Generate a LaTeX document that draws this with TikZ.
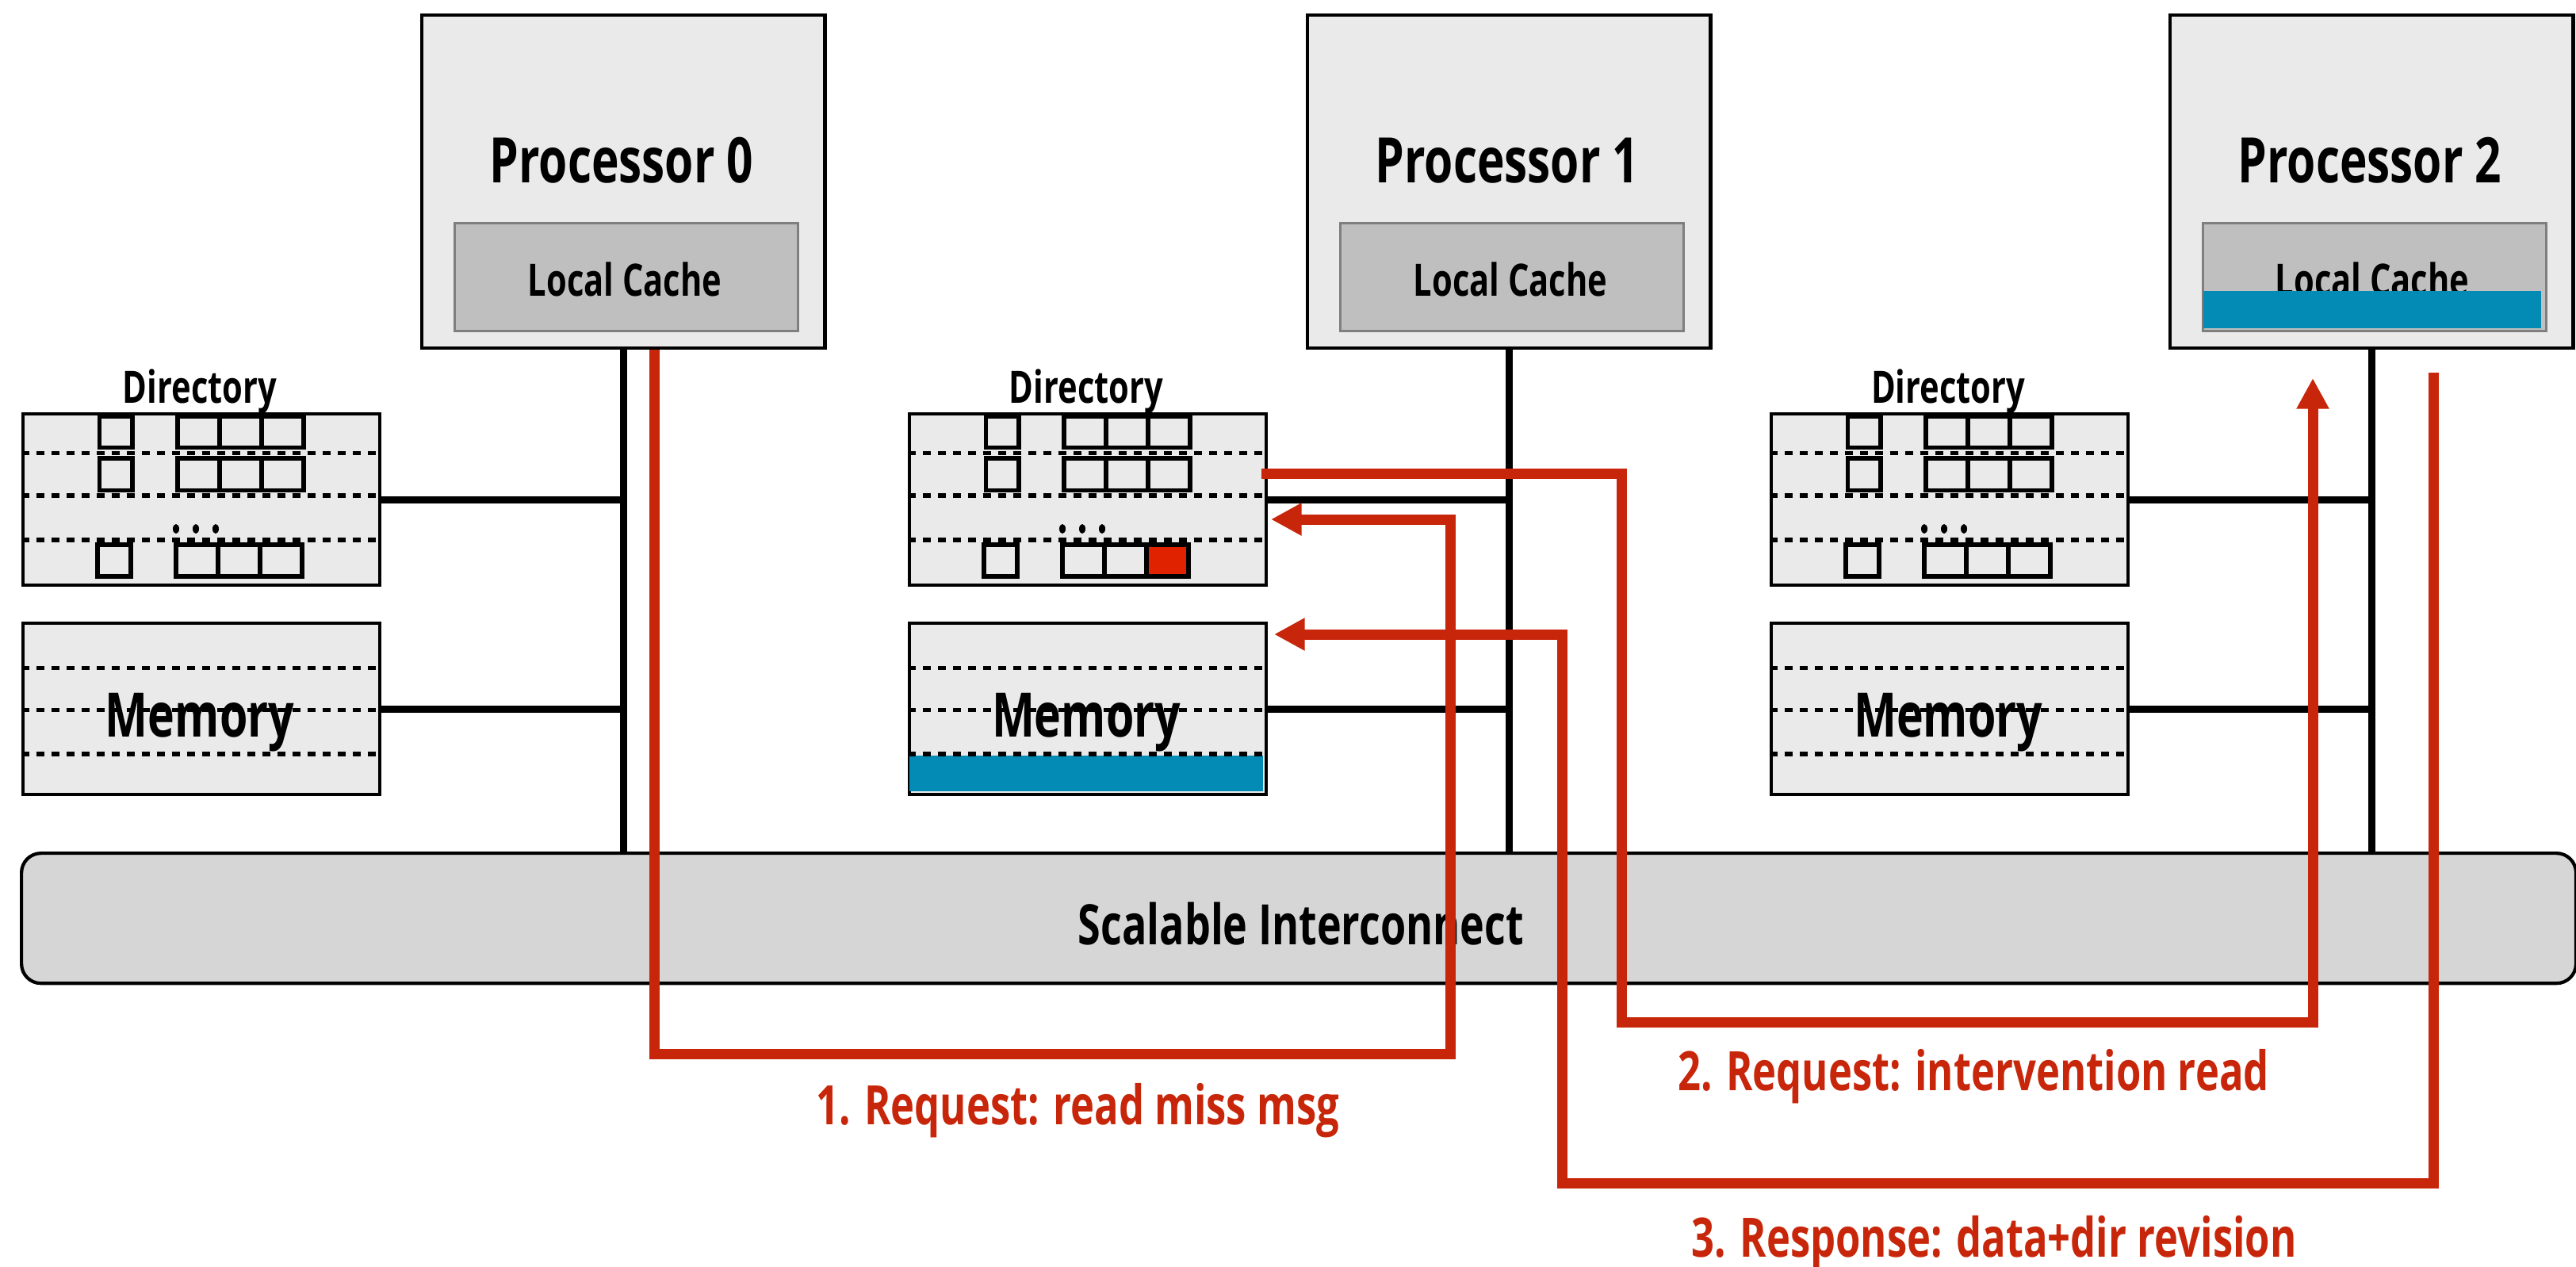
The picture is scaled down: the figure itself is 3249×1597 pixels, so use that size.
\documentclass[tikz,border=0pt]{standalone}
\usepackage{fontspec}
\setmainfont{Open Sans}[FakeStretch=0.74]
\usetikzlibrary{arrows.meta,calc}
\definecolor{boxgray}{HTML}{EAEAEA}
\definecolor{cachegray}{HTML}{BFBFBF}
\definecolor{cacheedge}{HTML}{7F7F7F}
\definecolor{busgray}{HTML}{D6D6D6}
\definecolor{msgred}{HTML}{C8260A}
\definecolor{cellred}{HTML}{E02200}
\definecolor{bandblue}{HTML}{038BB5}
\begin{document}
\begin{tikzpicture}[x=0.01cm,y=-0.01cm,
  procbox/.style={draw=black,line width=1.2pt,fill=boxgray,inner sep=0pt,minimum width=5.08cm,minimum height=4.2cm,anchor=north west},
  cachebox/.style={draw=cacheedge,line width=0.9pt,fill=cachegray,inner sep=0pt,minimum width=4.33cm,minimum height=1.36cm,anchor=north west},
  membox/.style={draw=black,line width=1.15pt,fill=boxgray,inner sep=0pt,minimum width=4.5cm,minimum height=2.16cm,anchor=north west},
  icbox/.style={draw=black,line width=1.2pt,fill=busgray,rounded corners=7pt,inner sep=0pt,minimum width=32.2cm,minimum height=1.64cm,anchor=north west},
  proctext/.style={anchor=base,inner sep=0pt,font=\fontsize{22.5}{26}\selectfont\bfseries},
  dirtext/.style={anchor=base,inner sep=0pt,font=\fontsize{16}{18}\selectfont\bfseries},
  memtext/.style={anchor=base,inner sep=0pt,font=\fontsize{22}{26}\selectfont\bfseries},
  ictext/.style={anchor=base,inner sep=0pt,font=\fontsize{20}{24}\selectfont\bfseries},
  msgtext/.style={anchor=base,inner sep=0pt,text=msgred,font=\fontsize{19.5}{24}\selectfont\bfseries},
  dashline/.style={draw=black,line width=1.5pt,dash pattern=on 2.8pt off 2.6pt},
  cell/.style={draw=black,line width=1.6pt},
  bus/.style={draw=black,line width=2.6pt},
  msg/.style={draw=msgred,line width=3.7pt,line join=miter,-{Triangle[length=11pt,width=11pt]}}
]
\useasboundingbox (0,0) rectangle (3249,1597);

% interconnect
\node[icbox] (ic) at (25,1074) {};
\node[ictext] (ict) at (1641,1191) {Scalable Interconnect};

% processors
\node[procbox] (p0) at (530,17) {};
\node[procbox] (p1) at (1647,17) {};
\node[procbox] (p2) at (2735,17) {};
\node[proctext] (p0t) at (784,230) {Processor 0};
\node[proctext] (p1t) at (1901,230) {Processor 1};
\node[proctext] (p2t) at (2989,230) {Processor 2};
\node[cachebox] (c0) at (572,280) {};
\node[cachebox] (c1) at (1689,280) {};
\node[cachebox] (c2) at (2777,280) {};
\node[dirtext] (c0t) at (788,373) {Local Cache};
\node[dirtext] (c1t) at (1905,373) {Local Cache};
\node[dirtext] (c2t) at (2992,373) {Local Cache};
\fill[bandblue] (2779,367) rectangle (3205,414);

% directories and memories
\node[membox] (d0) at (27,520) {};
\node[membox] (d1) at (1145,520) {};
\node[membox] (d2) at (2232,520) {};
\node[membox] (m0) at (27,784) {};
\node[membox] (m1) at (1145,784) {};
\node[membox] (m2) at (2232,784) {};
\fill[bandblue] (1147,953) rectangle (1593,998);

\foreach \o in {0,1118,2205}{
  \draw[dashline] (27+\o,571.5) -- (477+\o,571.5);
  \draw[dashline] (27+\o,625) -- (477+\o,625);
  \draw[dashline] (27+\o,681) -- (477+\o,681);
  \draw[dashline] (27+\o,842.5) -- (477+\o,842.5);
  \draw[dashline] (27+\o,895.5) -- (477+\o,895.5);
  \draw[dashline] (27+\o,951) -- (477+\o,951);
  % row 1
  \draw[cell] (125.5+\o,525) rectangle (167+\o,564.5);
  \draw[cell] (224+\o,525) rectangle (383+\o,564.5);
  \draw[cell] (277+\o,525) -- (277+\o,564.5);
  \draw[cell] (330+\o,525) -- (330+\o,564.5);
  % row 2
  \draw[cell] (125.5+\o,578) rectangle (167+\o,618.5);
  \draw[cell] (224+\o,578) rectangle (383+\o,618.5);
  \draw[cell] (277+\o,578) -- (277+\o,618.5);
  \draw[cell] (330+\o,578) -- (330+\o,618.5);
  % dots
  \fill (222+\o,667) ellipse (4 and 6);
  \fill (247+\o,667) ellipse (4 and 6);
  \fill (272+\o,667) ellipse (4 and 6);
  % row 3
  \draw[cell] (123+\o,687) rectangle (165+\o,727);
}
\fill[cellred] (1446,687) rectangle (1497,727);
\foreach \o in {0,1118,2205}{
  \draw[cell] (222+\o,687) rectangle (381+\o,727);
  \draw[cell] (275+\o,687) -- (275+\o,727);
  \draw[cell] (328+\o,687) -- (328+\o,727);
}
\node[dirtext] (d0t) at (252,508) {Directory};
\node[dirtext] (d1t) at (1370,508) {Directory};
\node[dirtext] (d2t) at (2457,508) {Directory};
\node[memtext] (m0t) at (252,929) {Memory};
\node[memtext] (m1t) at (1370,929) {Memory};
\node[memtext] (m2t) at (2457,929) {Memory};

% bus lines
\draw[bus] (p0.south) -- (p0.south |- ic.north);
\draw[bus] (p1.south) -- (p1.south |- ic.north);
\draw[bus] (p2.south) -- (p2.south |- ic.north);
\draw[bus] (d0.east) -- (d0.east -| p0.south);
\draw[bus] (d1.east) -- (d1.east -| p1.south);
\draw[bus] (d2.east) -- (d2.east -| p2.south);
\draw[bus] (m0.east) -- (m0.east -| p0.south);
\draw[bus] (m1.east) -- (m1.east -| p1.south);
\draw[bus] (m2.east) -- (m2.east -| p2.south);

% messages
\coordinate (s1) at (825,441);
\coordinate (e1) at (1603,655);
\coordinate (s2) at (1591,597);
\coordinate (e2) at (2917,477);
\coordinate (s3) at (3069,470);
\coordinate (e3) at (1607,800);
\draw[msg] (s1) |- (1829,1329) |- (e1);
\draw[msg] (s2) -| (2045,1289) -| (e2);
\draw[msg] (s3) |- (1970,1492) |- (e3);
\node[msgtext] (l1) at (1359,1418) {1. Request: read miss msg};
\node[msgtext] (l2) at (2489,1375) {2. Request: intervention read};
\node[msgtext] (l3) at (2515,1585) {3. Response: data+dir revision};
\end{tikzpicture}
\end{document}
